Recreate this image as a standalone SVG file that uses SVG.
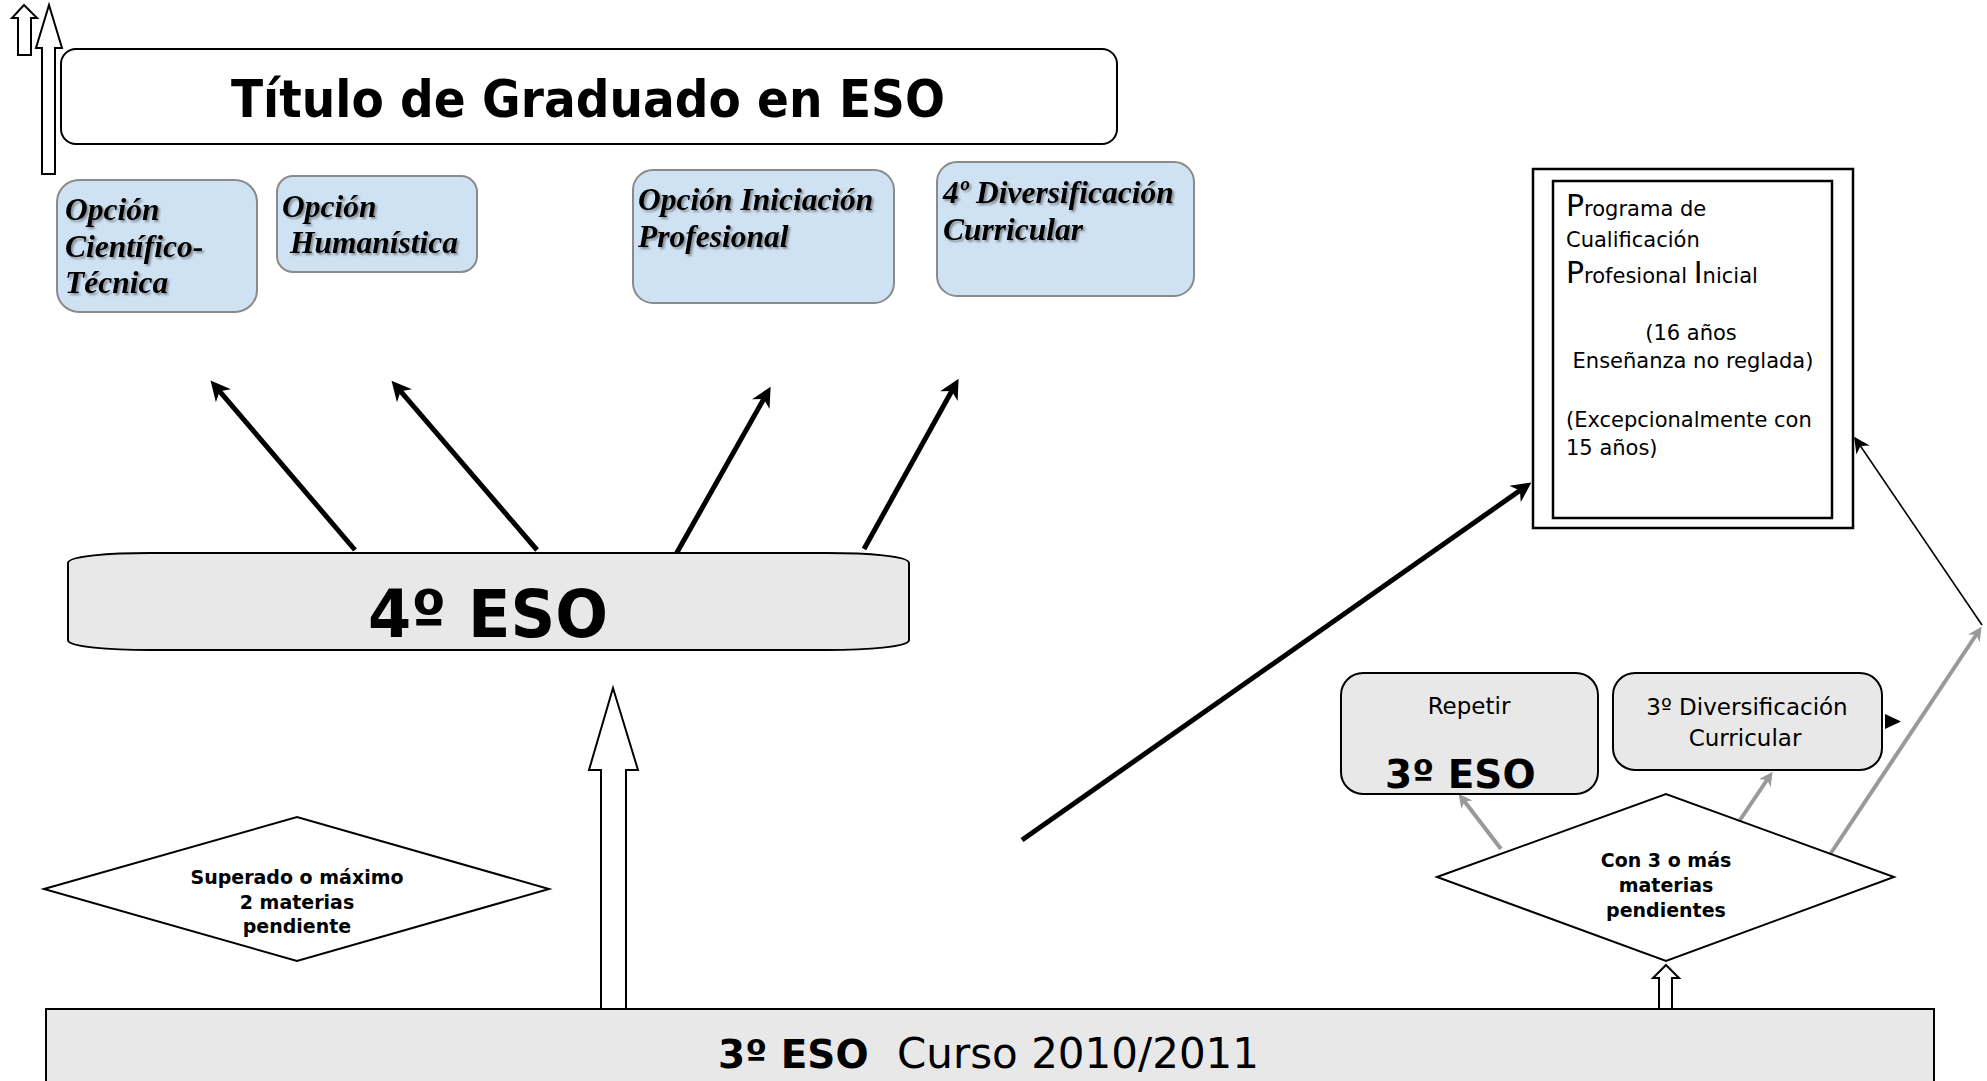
<svg xmlns="http://www.w3.org/2000/svg" width="1987" height="1081" viewBox="0 0 1987 1081">
<style>
.sans{font-family:"DejaVu Sans","Liberation Sans",sans-serif;fill:#000}
.b{font-weight:bold}
.opt{font-family:"Liberation Serif","Times New Roman",serif;font-weight:bold;font-style:italic;font-size:31.5px;fill:#000;filter:url(#sh)}
.optbox{fill:#cfe2f3;stroke:#8a8a8a;stroke-width:2}
.grey{fill:#e8e8e8;stroke:#000;stroke-width:2}
.hollow{fill:#fff;stroke:#000;stroke-width:2;stroke-linejoin:miter}
.dia{fill:#fff;stroke:#000;stroke-width:2}
.thick{stroke:#000;stroke-width:5;fill:none}
.gline{stroke:#999;stroke-width:4;fill:none}
.thin{stroke:#000;stroke-width:1.6;fill:none}
</style>
<defs>
<filter id="sh" x="-10%" y="-20%" width="130%" height="150%">
<feDropShadow dx="2" dy="2" stdDeviation="1" flood-color="#444" flood-opacity="0.55"/>
</filter>
<marker id="ah" viewBox="0 0 10 10" refX="6.4" refY="5" markerWidth="22" markerHeight="20" markerUnits="userSpaceOnUse" orient="auto">
<path d="M0,0 L10,5 L0,10 L3,5 z" fill="#000"/>
</marker>
<marker id="ahg" viewBox="0 0 10 10" refX="6.25" refY="5" markerWidth="16" markerHeight="14" markerUnits="userSpaceOnUse" orient="auto">
<path d="M0,0 L10,5 L0,10 L3,5 z" fill="#999"/>
</marker>
<marker id="aht" viewBox="0 0 10 10" refX="9" refY="5" markerWidth="20" markerHeight="16" markerUnits="userSpaceOnUse" orient="auto">
<path d="M0,0 L10,5 L0,10 L3,5 z" fill="#000"/>
</marker>
</defs>
<rect width="1987" height="1081" fill="#fff"/>

<g id="connectors">
<polygon class="hollow" points="24,5 37,18 31,18 31,55 18,55 18,18 12,18"/>
<polygon class="hollow" points="49,5 62,48 55,48 55,174 42,174 42,48 36,48"/>
<polygon class="hollow" points="613,688 638,770 626,770 626,1009 601,1009 601,770 589,770"/>
<polygon class="hollow" points="1666,965 1679,978 1672,978 1672,1009 1659,1009 1659,978 1653,978"/>
<line class="thick" x1="355" y1="550" x2="215.2" y2="386.1" marker-end="url(#ah)"/>
<line class="thick" x1="537" y1="550" x2="396.2" y2="386.1" marker-end="url(#ah)"/>
<line class="thick" x1="675" y1="556" x2="767.1" y2="393.0" marker-end="url(#ah)"/>
<line class="thick" x1="864" y1="549" x2="955.1" y2="385.0" marker-end="url(#ah)"/>
<line class="thick" x1="1022" y1="840" x2="1525.5" y2="486.6" marker-end="url(#ah)"/>
<line class="gline" x1="1501" y1="849" x2="1461.7" y2="797.8" marker-end="url(#ahg)"/>
<line class="gline" x1="1740" y1="820" x2="1769.7" y2="776.0" marker-end="url(#ahg)"/>
<line class="gline" x1="1821" y1="868" x2="1978.7" y2="631.0" marker-end="url(#ahg)"/>
<line class="thin" x1="1982" y1="625" x2="1855" y2="438" marker-end="url(#aht)"/>
<polygon points="1885,714 1901,721.5 1885,729" fill="#000"/>
</g>

<g id="titulo">
<rect x="61" y="49" width="1056" height="95" rx="15" fill="#fff" stroke="#000" stroke-width="2"/>
<text class="sans b" x="231" y="117" font-size="52" textLength="714" lengthAdjust="spacingAndGlyphs">Título de Graduado en ESO</text>
</g>

<g id="opcion-cientifico">
<rect class="optbox" x="57" y="180" width="200" height="132" rx="22"/>
<text class="opt" x="65" y="220">Opción</text>
<text class="opt" x="65" y="257">Científico-</text>
<text class="opt" x="65" y="293">Técnica</text>
</g>

<g id="opcion-humanistica">
<rect class="optbox" x="277" y="176" width="200" height="96" rx="16"/>
<text class="opt" x="282" y="217">Opción</text>
<text class="opt" x="290" y="253">Humanística</text>
</g>

<g id="opcion-iniciacion">
<rect class="optbox" x="633" y="170" width="261" height="133" rx="20"/>
<text class="opt" x="638" y="210">Opción Iniciación</text>
<text class="opt" x="638" y="247">Profesional</text>
</g>

<g id="diversificacion-4">
<rect class="optbox" x="937" y="162" width="257" height="134" rx="20"/>
<text class="opt" x="943" y="203">4º Diversificación</text>
<text class="opt" x="943" y="240">Curricular</text>
</g>

<g id="eso4">
<path class="grey" d="M68,563 C68,556 110,553 150,553 L827,553 C867,553 909,556 909,563 L909,640 C909,647 867,650 827,650 L150,650 C110,650 68,647 68,640 Z"/>
<text class="sans b" x="368" y="637" font-size="66" textLength="240" lengthAdjust="spacingAndGlyphs">4º ESO</text>
</g>

<g id="pcpi">
<rect x="1533" y="169" width="320" height="359" fill="#fff" stroke="#000" stroke-width="2.5"/>
<rect x="1553" y="181" width="279" height="337" fill="none" stroke="#000" stroke-width="2.5"/>
<text class="sans" x="1566" y="216" font-size="21"><tspan font-size="30">P</tspan>rograma de</text>
<text class="sans" x="1566" y="247" font-size="21">Cualificación</text>
<text class="sans" x="1566" y="283" font-size="21"><tspan font-size="30">P</tspan>rofesional <tspan font-size="30">I</tspan>nicial</text>
<text class="sans" x="1691" y="340" font-size="21" text-anchor="middle">(16 años</text>
<text class="sans" x="1693" y="368" font-size="21" text-anchor="middle">Enseñanza no reglada)</text>
<text class="sans" x="1566" y="427" font-size="21">(Excepcionalmente con</text>
<text class="sans" x="1566" y="455" font-size="21">15 años)</text>
</g>

<g id="repetir">
<rect class="grey" x="1341" y="673" width="257" height="121" rx="22"/>
<text class="sans" x="1469" y="714" font-size="23" text-anchor="middle">Repetir</text>
<text class="sans b" x="1385" y="788" font-size="39">3º ESO</text>
</g>

<g id="diversificacion-3">
<rect class="grey" x="1613" y="673" width="269" height="97" rx="22"/>
<text class="sans" x="1747" y="715" font-size="23" text-anchor="middle">3º Diversificación</text>
<text class="sans" x="1745" y="746" font-size="23" text-anchor="middle">Curricular</text>
</g>

<g id="decision-superado">
<polygon class="dia" points="44,889 297,817 549,889 297,961"/>
<text class="sans b" x="297" y="884" font-size="19" text-anchor="middle">Superado o máximo</text>
<text class="sans b" x="297" y="909" font-size="19" text-anchor="middle">2 materias</text>
<text class="sans b" x="297" y="933" font-size="19" text-anchor="middle">pendiente</text>
</g>

<g id="decision-pendientes">
<polygon class="dia" points="1437,877 1666,794 1894,877 1666,961"/>
<text class="sans b" x="1666" y="867" font-size="19" text-anchor="middle">Con 3 o más</text>
<text class="sans b" x="1666" y="892" font-size="19" text-anchor="middle">materias</text>
<text class="sans b" x="1666" y="917" font-size="19" text-anchor="middle">pendientes</text>
</g>

<g id="eso3">
<rect class="grey" x="46" y="1009" width="1888" height="90"/>
<text class="sans b" x="718" y="1068" font-size="39">3º ESO</text>
<text class="sans" x="897" y="1068" font-size="42">Curso 2010/2011</text>
</g>
</svg>
